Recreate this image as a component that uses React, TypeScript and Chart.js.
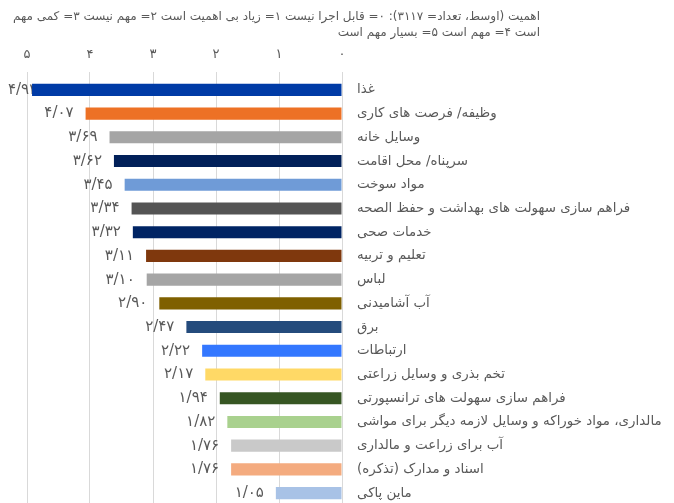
import React, { useEffect, useRef } from "react";
import { Chart, registerables } from "chart.js";

Chart.register(...registerables);

const titleLines = [
  "اهمیت (اوسط، تعداد= ۳۱۱۷): ۰= قابل اجرا نیست ۱= زیاد بی اهمیت است ۲= مهم نیست ۳= کمی مهم",
  "است ۴= مهم است ۵= بسیار مهم است",
];

const categories = [
  "غذا",
  "وظیفه/ فرصت های کاری",
  "وسایل خانه",
  "سرپناه/ محل اقامت",
  "مواد سوخت",
  "فراهم سازی سهولت های بهداشت و حفظ الصحه",
  "خدمات صحی",
  "تعلیم و تربیه",
  "لباس",
  "آب آشامیدنی",
  "برق",
  "ارتباطات",
  "تخم بذری و وسایل زراعتی",
  "فراهم سازی سهولت های ترانسپورتی",
  "مالداری، مواد خوراکه و وسایل لازمه دیگر برای مواشی",
  "آب برای زراعت و مالداری",
  "اسناد و مدارک (تذکره)",
  "ماین پاکی",
];

const values = [4.92, 4.07, 3.69, 3.62, 3.45, 3.34, 3.32, 3.11, 3.1, 2.9, 2.47, 2.22, 2.17, 1.94, 1.82, 1.76, 1.76, 1.05];

const barColors = [
  "#003BA6", "#ED7125", "#A5A5A5", "#012059", "#6F9BD7", "#545454",
  "#002464", "#7F380D", "#A5A5A5", "#7F6000", "#244B7C", "#3377FF",
  "#FFD966", "#375623", "#A9D18E", "#C9C9C9", "#F4AB7F", "#A8C2E6",
];

const xTicks = [0, 1, 2, 3, 4, 5];

const faDigits = "۰۱۲۳۴۵۶۷۸۹";
function toFa(s: string): string {
  return s.replace(/[0-9]/g, (d) => faDigits[Number(d)]).replace(".", "/");
}

const FONT = "'DejaVu Sans', sans-serif";
const TEXT = "#595959";

const titleText = {
  id: "titleText",
  afterDraw(chart: any) {
    const ctx = chart.ctx;
    ctx.save();
    ctx.font = `12px ${FONT}`;
    ctx.fillStyle = TEXT;
    ctx.textAlign = "right";
    ctx.textBaseline = "middle";
    titleLines.forEach((line, i) => {
      ctx.fillText(line, 540, 17 + i * 16);
    });
    ctx.restore();
  },
};

const valueLabels = {
  id: "valueLabels",
  beforeDatasetsDraw(chart: any) {
    const ctx = chart.ctx;
    const meta = chart.getDatasetMeta(0);
    ctx.save();
    ctx.font = `15px ${FONT}`;
    ctx.fillStyle = TEXT;
    ctx.textAlign = "right";
    ctx.textBaseline = "middle";
    meta.data.forEach((el: any, i: number) => {
      const txt = toFa(values[i].toFixed(2));
      const w = ctx.measureText(txt).width;
      const x = Math.max(el.x - 12, 8 + w);
      ctx.fillText(txt, x, el.y);
    });
    ctx.restore();
  },
};

export default function App() {
  const ref = useRef<HTMLCanvasElement>(null);
  useEffect(() => {
    if (!ref.current) return;
    const chart = new Chart(ref.current, {
      type: "bar",
      data: {
        labels: categories,
        datasets: [
          {
            data: values,
            backgroundColor: barColors,
            borderWidth: 0,
            categoryPercentage: 1,
            barPercentage: 0.51,
          },
        ],
      },
      options: {
        indexAxis: "y",
        responsive: false,
        animation: false,
        layout: { padding: { left: 27, right: 6, top: 45, bottom: 0 } },
        plugins: {
          legend: { display: false },
          tooltip: { enabled: false },
          title: { display: false },
        },
        scales: {
          x: {
            position: "top",
            reverse: true,
            min: 0,
            max: 5,
            afterBuildTicks: (s: any) => {
              s.ticks = xTicks.map((v) => ({ value: v }));
            },
            afterFit: (s: any) => {
              s.height = 33;
            },
            ticks: {
              color: TEXT,
              font: { family: FONT, size: 13 },
              padding: 9.5,
              maxRotation: 0,
              callback: (v: any) => toFa(String(v)),
            },
            grid: { color: "#D9D9D9", lineWidth: 1, tickLength: 6, drawTicks: true },
            border: { display: false },
          },
          y: {
            position: "right",
            afterFit: (s: any) => {
              s.width = 326;
            },
            ticks: {
              color: TEXT,
              font: { family: FONT, size: 13.4 },
              padding: 0,
              autoSkip: false,
            },
            grid: {
              display: true,
              drawOnChartArea: false,
              drawTicks: true,
              tickLength: 15,
              color: "rgba(0,0,0,0)",
            },
            border: { display: false },
          },
        },
      },
      plugins: [valueLabels, titleText],
    } as any);
    return () => chart.destroy();
  }, []);
  return (
    <div style={{ position: "absolute", left: 0, top: 0, width: 674, height: 503, overflow: "hidden", background: "#fff" }}>
      <canvas ref={ref} width={674} height={513} dir="rtl" style={{ direction: "rtl", display: "block" }} />
    </div>
  );
}
